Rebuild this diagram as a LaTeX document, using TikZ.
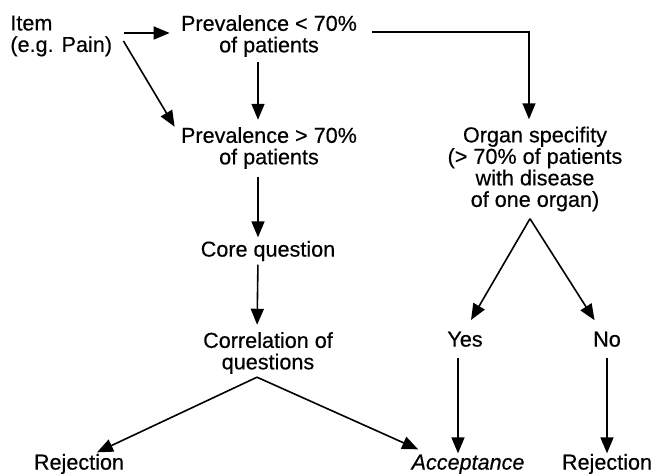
\documentclass[tikz,border=0pt]{standalone}
\usepackage{fontspec}
\setmainfont{Liberation Sans}[FakeBold=0.4,ItalicFeatures={FakeBold=0.4}]
\usetikzlibrary{arrows.meta,positioning}
\tikzset{
  txt/.style={
      inner sep=0pt,
      align=center,
      font=\fontsize{10.8}{10.75}\selectfont
  },
  word/.style={
      txt,
      text height=1.5ex,
      text depth=.25ex
  },
  flow/.style={
      -{Triangle[length=8pt,width=6.5pt]},
      line width=0.8pt
  }
}
\begin{document}
\begin{tikzpicture}[x=0.5pt,y=-0.5pt]
    \useasboundingbox (0,0) rectangle (654,474);
    \node[txt,anchor=west,align=left] (item) at (10,36) {Item\\(e.g. Pain)};
    \node[txt] (prevlo) at (269,36) {Prevalence < 70\%\\of patients};
    \node[txt] (prevhi) at (269,148) {Prevalence > 70\%\\of patients};
    \node[word] (core) at (268,250) {Core question};
    \node[txt] (corr) at (268,353) {Correlation of\\questions};
    \node[txt] (organ) at (535,169) {Organ specifity\\(> 70\% of patients\\with disease\\of one organ)};
    \node[word] (yes) at (465,340) {Yes};
    \node[word] (no) at (607,340) {No};
    \node[word] (rejl) at (79,463) {Rejection};
    \node[word] (acc) at (468,463) {\itshape Acceptance};
    \node[word] (rejr) at (607,463) {Rejection};
    \coordinate (split) at ([xshift=-5.5pt,yshift=-1.5pt]corr.south);
    \coordinate (fork) at ([xshift=-2.5pt,yshift=-3.5pt]organ.south);

    \draw[flow,shorten <=6pt,shorten >=5.5pt] ([yshift=1.5pt]item.east) -- ([yshift=1.5pt]prevlo.west);
    \draw[flow] ([xshift=5.5pt,yshift=-2.5pt]item.east) -- ([xshift=-3pt]prevhi.north west);
    \draw[flow,shorten <=2.5pt,shorten >=3.5pt] ([xshift=-5.5pt]prevlo.south) -- ([xshift=-5.5pt]prevhi.north);
    \draw[flow,shorten <=7.5pt,shorten >=3.5pt] ([yshift=2pt]prevlo.east) -| ([xshift=-3pt]organ.north);
    \draw[flow,shorten <=4pt,shorten >=1.5pt] ([xshift=-5.5pt]prevhi.south) -- ([xshift=-5pt]core.north);
    \draw[flow,shorten <=2.5pt,shorten >=3.5pt] ([xshift=-5pt]core.south) -- ([xshift=-5.5pt]corr.north);
    \draw[flow] (split) -- ([xshift=9pt,yshift=0.5pt]rejl.north);
    \draw[flow] (split) -- ([xshift=3.5pt,yshift=2pt]acc.north west);
    \draw[flow,shorten >=6pt] (fork) -- (yes.north);
    \draw[flow,shorten >=6pt] (fork) -- ([xshift=-3pt]no.north);
    \draw[flow,shorten <=4pt] ([xshift=-3.5pt]yes.south) -- ([xshift=-3.5pt]yes.south |- acc.north);
    \draw[flow,shorten <=4pt] (no.south) -- (rejr.north);
\end{tikzpicture}
\end{document}
